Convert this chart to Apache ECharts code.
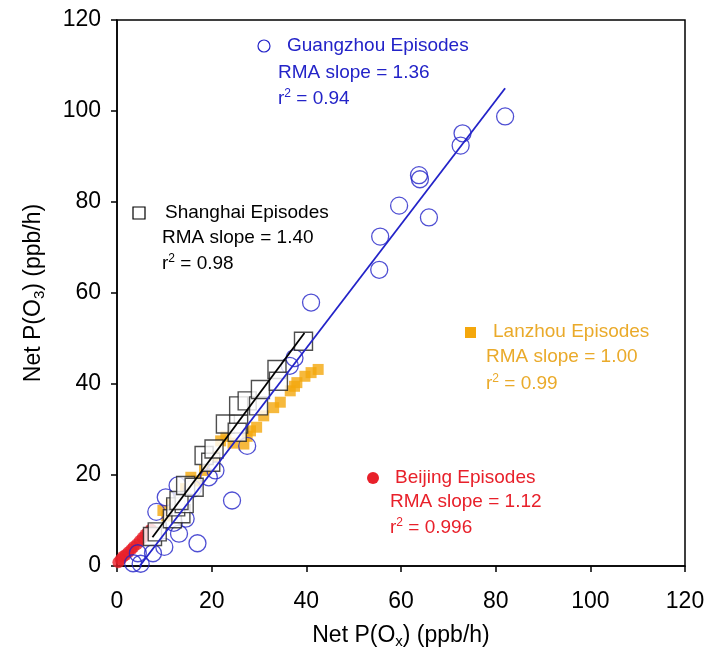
<!DOCTYPE html>
<html><head><meta charset="utf-8">
<script src="https://cdn.jsdelivr.net/npm/echarts@6/dist/echarts.min.js"></script>
<style>html,body{margin:0;padding:0;background:#fff}#c{width:710px;height:651px}</style>
</head><body><div id="c"></div>
<script>
const xTicks = [0, 20, 40, 60, 80, 100, 120];
const yTicks = [0, 20, 40, 60, 80, 100, 120];

const guangzhou = [[3.4,0.6],[4.4,2.8],[5.0,0.5],[7.6,2.8],[10.0,4.2],[17.0,5.0],[13.1,7.1],[8.3,11.9],
  [10.3,15.1],[12.8,17.7],[14.5,10.4],[12.0,9.5],[24.3,14.4],[20.8,21.0],[19.4,19.5],[27.5,26.4],[16.0,17.0],
  [37.5,45.7],[36.5,44.0],[41.0,57.9],[55.4,65.1],[55.6,72.4],[59.6,79.2],[63.8,85.9],[64.0,85.0],[65.9,76.6],
  [72.6,92.4],[73.0,95.1],[82.0,98.8]];
const shanghai = [[7.5,6.5],[8.5,7.5],[11.7,10.4],[13.5,11.5],[12.4,13.0],[14.2,13.7],[13.1,14.4],[14.5,17.7],
  [16.3,17.3],[18.4,24.3],[19.8,22.8],[20.5,25.7],[22.9,31.2],[25.7,31.2],[25.7,35.2],[25.4,29.4],[27.5,36.3],
  [29.9,35.2],[30.3,38.8],[33.8,43.2],[34.1,40.6],[39.4,49.4]];
const lanzhou = [[9.7,12.2],[10.5,11.0],[11.5,13.5],[14.5,17.0],[15.6,19.5],[16.8,18.7],[18.5,21.0],[20.5,24.0],
  [21.9,27.5],[23.0,28.5],[24.5,27.0],[26.8,26.8],[27.5,28.5],[28.2,29.7],[29.5,30.5],[31.0,33.0],[33.1,34.8],
  [34.5,36.0],[36.6,38.5],[37.5,39.5],[38.0,40.3],[39.7,41.7],[41.0,42.5],[42.5,43.2]];
const beijing = [[0.3,0.8],[0.8,1.5],[1.3,2.1],[1.8,2.4],[2.4,3.0],[3.0,3.6],[3.5,4.2],[4.2,4.8],[4.8,5.5],
  [5.4,6.2],[6.0,6.9],[6.5,7.4],[7.2,8.0]];
const gzFit = [[4.8,0.0],[82.0,105.0]];
const shFit = [[7.5,6.3],[39.6,51.2]];

const FONT = 'Liberation Sans';
const BLUE = '#2323c8', RED = '#e8202a', ORANGE = '#f4a70c', ORANGE_T = '#eaaa2a';
const FS = 19;

const chart = echarts.init(document.getElementById('c'));
function mkRich(color){ return {sup:{fontSize:12, fill:color, fontFamily:FONT, padding:[0,0,10,0]}, n:{fontSize:FS, fill:color, fontFamily:FONT}}; }
function line(x, cy, s, color){ return {type:'text', x:x, y:cy, style:{text:s, fill:color, font:FS+'px "'+FONT+'"', verticalAlign:'middle'}}; }
function rline(x, cy, v, color){ return {type:'text', x:x, y:cy, style:{text:'{n|r}{sup|2}{n| = '+v+'}', rich:mkRich(color), verticalAlign:'middle'}}; }

const axisName = () => ({
  rich:{n:{fontSize:23, fontFamily:FONT, color:'#000'}, s:{fontSize:15, fontFamily:FONT, color:'#000', padding:[12,0,0,0]}}
});

chart.setOption({
  animation:false,
  grid:{left:117, right:25, top:20, bottom:85, show:true, borderColor:'#000', borderWidth:1.5, containLabel:false, outerBoundsMode:'none'},
  xAxis:{type:'value', min:0, max:120, interval:20,
    axisLine:{lineStyle:{color:'#000', width:1.5}},
    axisTick:{inside:false, length:6, lineStyle:{color:'#000', width:1.5}},
    splitLine:{show:false},
    axisLabel:{color:'#000', fontSize:23, fontFamily:FONT, margin:24},
    name:'{n|Net P(O}{s|x}{n|) (ppb/h)}', nameLocation:'middle', nameGap:56,
    nameTextStyle:axisName()
  },
  yAxis:{type:'value', min:0, max:120, interval:20,
    axisLine:{lineStyle:{color:'#000', width:1.5}},
    axisTick:{inside:false, length:6, lineStyle:{color:'#000', width:1.5}},
    splitLine:{show:false},
    axisLabel:{color:'#000', fontSize:23, fontFamily:FONT, margin:16},
    name:'{n|Net P(O}{s|3}{n|) (ppb/h)}', nameLocation:'middle', nameGap:70,
    nameTextStyle:axisName()
  },
  series:[
    {type:'scatter', data:lanzhou, symbol:'rect', symbolSize:11, itemStyle:{color:ORANGE}, z:2},
    {type:'scatter', data:beijing, symbol:'circle', symbolSize:12, itemStyle:{color:RED}, z:3},
    {type:'scatter', data:guangzhou, symbol:'circle', symbolSize:17, itemStyle:{color:'rgba(0,0,0,0)', borderColor:BLUE, borderWidth:1.3}, z:4},
    {type:'scatter', data:shanghai, symbol:'rect', symbolSize:18, itemStyle:{color:'#fff', borderColor:'#222', borderWidth:1.4}, z:5},
    {type:'line', data:gzFit, showSymbol:false, lineStyle:{color:BLUE, width:1.8}, z:6},
    {type:'line', data:shFit, showSymbol:false, lineStyle:{color:'#000', width:1.8}, z:7}
  ],
  graphic:[
    {type:'circle', shape:{cx:264, cy:46, r:6}, style:{fill:'none', stroke:BLUE, lineWidth:1.2}},
    line(287, 46, 'Guangzhou Episodes', BLUE),
    line(278, 73, 'RMA slope = 1.36', BLUE),
    rline(278, 99, '0.94', BLUE),

    {type:'rect', shape:{x:133, y:207, width:12, height:12}, style:{fill:'none', stroke:'#000', lineWidth:1.2}},
    line(165, 213, 'Shanghai Episodes', '#000'),
    line(162, 238, 'RMA slope = 1.40', '#000'),
    rline(162, 264, '0.98', '#000'),

    {type:'rect', shape:{x:465, y:327, width:11, height:11}, style:{fill:ORANGE}},
    line(493, 332, 'Lanzhou Episodes', ORANGE_T),
    line(486, 357, 'RMA slope = 1.00', ORANGE_T),
    rline(486, 384, '0.99', ORANGE_T),

    {type:'circle', shape:{cx:373, cy:478, r:6}, style:{fill:RED}},
    line(395, 478, 'Beijing Episodes', RED),
    line(390, 502, 'RMA slope = 1.12', RED),
    rline(390, 528, '0.996', RED)
  ]
});
</script></body></html>
